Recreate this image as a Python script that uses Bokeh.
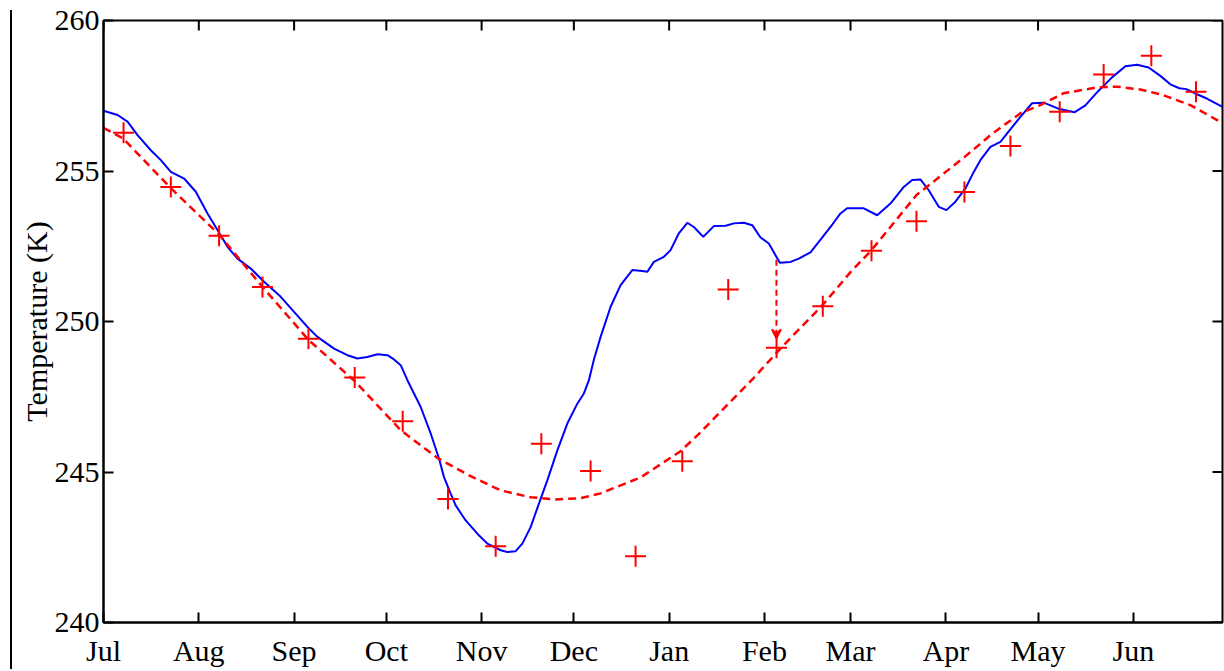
import math
from bokeh.plotting import figure
from bokeh.models import Range1d, FixedTicker, Arrow, VeeHead, Div
from bokeh.layouts import row
from bokeh.embed import file_html
from bokeh.resources import INLINE

# ---------------- data (day of year starting 1 Jul, temperature in K) ----------------
month_names = ["Jul", "Aug", "Sep", "Oct", "Nov", "Dec", "Jan", "Feb", "Mar", "Apr", "May", "Jun"]
month_days = [0, 31, 62, 92, 123, 153, 184, 215, 243, 274, 304, 335]
y_ticks = [240, 245, 250, 255, 260]

# blue: continuous smoothed temperature
blue_day = [0, 4.57, 7.82, 11.07, 15.39, 18.65, 21.90, 26.22, 30.03, 33.83, 37.08, 40.33, 43.58,
            47.91, 52.23, 57.66, 61.99, 66.34, 69.59, 74.99, 79.35, 82.60, 85.85, 89.10, 92.35,
            94.50, 96.68, 98.86, 103.18, 106.43, 109.13, 110.76, 112.93, 114.56, 117.81, 121.61,
            124.87, 129.19, 131.37, 134.07, 136.25, 138.94, 141.64, 144.37, 147.63, 150.88,
            154.13, 156.27, 157.90, 159.53, 161.70, 164.96, 168.21, 172.01, 175.26, 176.89,
            179.03, 182.29, 184.46, 187.16, 189.89, 192.04, 195.09, 198.54, 202.35, 205.05,
            208.30, 211.03, 213.73, 216.42, 218.60, 220.00, 223.48, 226.18, 229.98, 233.88,
            237.13, 239.73, 241.91, 247.31, 251.67, 255.99, 260.32, 263.05, 265.75, 268.44,
            271.70, 274.20, 277.13, 280.38, 283.08, 285.25, 288.50, 291.76, 293.94, 298.26,
            302.06, 305.83, 310.61, 315.82, 319.39, 323.62, 328.07, 332.40, 336.20, 339.97,
            343.78, 347.03, 349.96, 352.23, 355.71, 359.06, 364.0]
blue_temp = [257.00, 256.86, 256.64, 256.19, 255.69, 255.36, 254.97, 254.75, 254.31, 253.59,
             253.04, 252.48, 252.09, 251.76, 251.32, 250.82, 250.32, 249.82, 249.49, 249.10,
             248.88, 248.77, 248.82, 248.91, 248.88, 248.74, 248.55, 248.05, 247.16, 246.28,
             245.45, 244.83, 244.28, 243.89, 243.39, 242.95, 242.62, 242.40, 242.34, 242.37,
             242.62, 243.17, 243.95, 244.72, 245.72, 246.61, 247.27, 247.61, 248.05, 248.74,
             249.49, 250.49, 251.21, 251.71, 251.68, 251.65, 251.98, 252.15, 252.37, 252.93,
             253.28, 253.14, 252.81, 253.17, 253.18, 253.26, 253.28, 253.20, 252.79, 252.59,
             252.20, 251.95, 251.98, 252.09, 252.30, 252.80, 253.23, 253.59, 253.76, 253.76,
             253.53, 253.92, 254.47, 254.70, 254.72, 254.36, 253.81, 253.70, 253.98, 254.42,
             254.97, 255.36, 255.80, 255.97, 256.25, 256.80, 257.25, 257.27, 257.07, 256.95,
             257.18, 257.66, 258.11, 258.48, 258.53, 258.44, 258.16, 257.88, 257.75, 257.72,
             257.55, 257.40, 257.13]

# red dashed: fitted seasonal curve
fit_day = [0, 6.29, 21.90, 37.50, 51.81, 66.77, 81.72, 96.68, 108.71, 119.44, 129.19, 138.94,
           147.07, 155.20, 161.70, 174.71, 187.71, 194.22, 211.45, 221.20, 233.88, 242.99,
           249.82, 264.45, 280.05, 288.50, 298.26, 304.76, 312.24, 323.29, 329.80, 337.27,
           344.75, 353.53, 364.0]
fit_temp = [256.43, 256.09, 254.43, 252.90, 251.14, 249.38, 248.02, 246.39, 245.46, 244.86,
            244.39, 244.16, 244.09, 244.13, 244.29, 244.82, 245.69, 246.32, 248.12, 249.21,
            250.54, 251.64, 252.37, 254.20, 255.46, 256.19, 256.92, 257.19, 257.58, 257.78,
            257.80, 257.71, 257.52, 257.19, 256.59]

# red crosses: individual samples
obs_day = [6.52, 21.90, 37.60, 51.71, 66.67, 81.72, 97.33, 112.06, 127.57, 142.42, 158.45,
           173.08, 188.27, 203.22, 218.93, 233.98, 249.82, 264.45, 280.05, 295.01, 311.04,
           325.34, 340.85, 355.38]
obs_temp = [256.27, 254.47, 252.85, 251.15, 249.43, 248.14, 246.69, 244.10, 242.53, 245.94,
            245.03, 242.20, 245.36, 251.06, 249.13, 250.51, 252.35, 253.33, 254.30, 255.83,
            256.97, 258.21, 258.83, 257.63]

# arrow (Feb): from the blue curve down to the fitted curve
arrow_day = 218.9
arrow_from = 252.05
arrow_to = 249.44

X_MIN, X_MAX = 0, 364
Y_MIN, Y_MAX = 240, 260
FONT = "Liberation Serif"
H = 671

# ---------------- bracket strip on the far left (pure decoration) ----------------
a = Div(width=12, height=H,
        text='<div style="display:block;height:10px;width:12px;"></div>'
             '<div style="display:block;margin-left:10px;width:4px;height:%dpx;'
             'border-left:2px solid black;border-top:2px solid black;"></div>' % (H - 12),
        styles={"margin": "0", "padding": "0", "overflow": "hidden"})

# ---------------- main plot ----------------
p = figure(width=1212, height=H, x_range=Range1d(X_MIN, X_MAX), y_range=Range1d(Y_MIN, Y_MAX),
           output_backend="svg", toolbar_location=None, title=None,
           min_border_left=91, min_border_right=2, min_border_top=20, min_border_bottom=49,
           outline_line_color="black", outline_line_width=2)
p.grid.visible = False

p.line(blue_day, blue_temp, line_color="#0000ff", line_width=2)
p.line(fit_day, fit_temp, line_color="#ff0000", line_width=2.5, line_dash="8 5")
p.scatter(obs_day, obs_temp, marker="cross", size=21, line_color="#ff0000", line_width=2)
p.add_layout(Arrow(x_start=arrow_day, y_start=arrow_from, x_end=arrow_day, y_end=arrow_to,
                   line_color="#ff0000", line_width=2, line_dash="6 4",
                   end=VeeHead(size=9, line_color="#ff0000", line_width=2,
                               fill_color="#ff0000")))

# inward ticks on the top and right edges of the box
p.ray(x=month_days, y=[Y_MAX] * len(month_days), length=10, length_units="screen",
      angle=-math.pi / 2, line_color="black", line_width=2)
p.ray(x=[X_MAX] * len(y_ticks), y=y_ticks, length=10, length_units="screen",
      angle=math.pi, line_color="black", line_width=2)


def style(ax):
    ax.axis_line_width = 2
    ax.axis_line_color = "black"
    ax.major_tick_in = 10
    ax.major_tick_out = 0
    ax.major_tick_line_width = 2
    ax.minor_tick_line_color = None
    ax.major_label_text_font = FONT
    ax.major_label_text_font_size = "30px"
    ax.major_label_text_color = "black"


xa = p.xaxis[0]
xa.ticker = FixedTicker(ticks=month_days)
xa.major_label_overrides = {d: m for d, m in zip(month_days, month_names)}
style(xa)
xa.major_label_standoff = 11

ya = p.yaxis[0]
ya.ticker = FixedTicker(ticks=y_ticks)
style(ya)
ya.major_label_standoff = 4
ya.axis_label = "Temperature (K)"
ya.axis_label_text_font = FONT
ya.axis_label_text_font_style = "normal"
ya.axis_label_text_font_size = "30px"
ya.axis_label_text_color = "black"
ya.axis_label_standoff = -1

layout = row(a, p)
open("out.html", "w").write(file_html(layout, INLINE))
